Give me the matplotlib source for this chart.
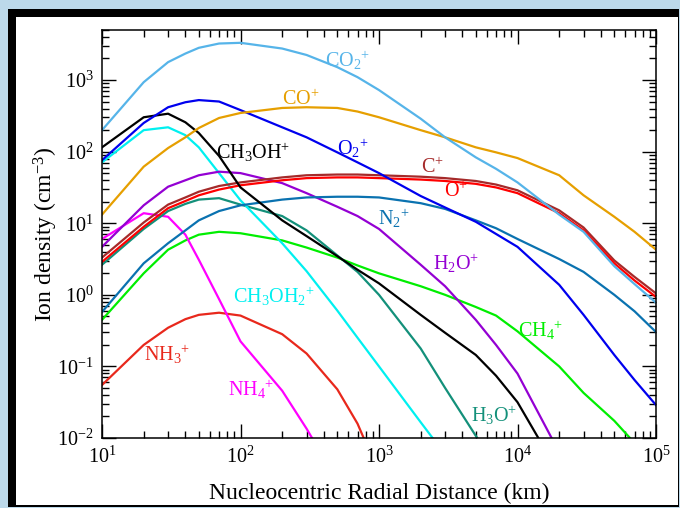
import numpy as np
import matplotlib
matplotlib.use("Agg")
import matplotlib.pyplot as plt
from matplotlib.patches import Rectangle
from matplotlib.ticker import LogLocator, FuncFormatter, NullFormatter

plt.rcParams['font.family'] = ['Liberation Serif', 'DejaVu Serif']
plt.rcParams['mathtext.fontset'] = 'custom'
plt.rcParams['mathtext.rm'] = 'Liberation Serif'
plt.rcParams['mathtext.it'] = 'Liberation Serif:italic'

nan = np.nan
# radial distance grid (km)
r = [10, 20, 30, 40, 50, 70, 100, 200, 300, 500, 700, 1e3,
     2e3, 3e3, 5e3, 7e3, 1e4, 2e4, 3e4, 5e4, 7e4, 1e5]

# log10 of ion density (cm^-3)
co2 = [2.30, 2.97, 3.25, 3.37, 3.45, 3.51, 3.52, 3.44, 3.35, 3.18, 3.04, 2.86,
       2.46, 2.20, 1.92, 1.76, 1.57, 1.12, 0.88, 0.40, 0.15, -0.11]
co = [1.12, 1.79, 2.05, 2.20, 2.33, 2.47, 2.54, 2.61, 2.62, 2.61, 2.56, 2.48,
      2.30, 2.20, 2.06, 1.99, 1.91, 1.67, 1.39, 1.09, 0.88, 0.63]
o2 = [1.88, 2.40, 2.62, 2.69, 2.72, 2.70, 2.58, 2.34, 2.20, 1.99, 1.85, 1.70,
      1.38, 1.22, 1.02, 0.85, 0.67, 0.14, -0.28, -0.84, -1.19, -1.54]
cp = [0.52, 1.01, 1.26, 1.36, 1.44, 1.52, 1.57, 1.64, 1.67, 1.68, 1.68, 1.67,
      1.65, 1.63, 1.59, 1.54, 1.46, 1.18, 0.94, 0.48, 0.25, 0.02]
op = [0.46, 0.95, 1.21, 1.31, 1.39, 1.47, 1.53, 1.60, 1.63, 1.64, 1.64, 1.63,
      1.61, 1.59, 1.55, 1.50, 1.42, 1.14, 0.90, 0.44, 0.20, -0.03]
n2 = [-0.24, 0.44, 0.72, 0.90, 1.04, 1.17, 1.25, 1.33, 1.36, 1.37, 1.37, 1.36,
      1.28, 1.20, 1.04, 0.93, 0.78, 0.50, 0.32, 0.00, -0.23, -0.52]
h2o = [0.67, 1.25, 1.51, 1.60, 1.67, 1.72, 1.70, 1.56, 1.42, 1.23, 1.10, 0.92,
       0.42, 0.12, -0.35, -0.70, -1.10, -2.2, nan, nan, nan, nan]
ch3oh = [2.06, 2.48, 2.53, 2.41, 2.26, 1.94, 1.50, 1.04, 0.82, 0.54, 0.35, 0.16,
         -0.28, -0.53, -0.84, -1.13, -1.50, -2.5, nan, nan, nan, nan]
ch3oh2 = [1.85, 2.30, 2.34, 2.23, 2.06, 1.70, 1.32, 0.72, 0.33, -0.22, -0.60, -1.00,
          -1.78, -2.23, nan, nan, nan, nan, nan, nan, nan, nan]
nh4 = [0.78, 1.14, 1.09, 0.84, 0.49, -0.06, -0.65, -1.34, -1.87, -2.6, nan, nan,
       nan, nan, nan, nan, nan, nan, nan, nan, nan, nan]
nh3 = [-1.26, -0.70, -0.46, -0.34, -0.28, -0.25, -0.29, -0.55, -0.82, -1.32, -1.80, -2.5,
       nan, nan, nan, nan, nan, nan, nan, nan, nan, nan]
h3o = [0.42, 0.92, 1.17, 1.27, 1.33, 1.35, 1.26, 1.10, 0.90, 0.55, 0.32, 0.00,
       -0.75, -1.30, -1.97, -2.4, nan, nan, nan, nan, nan, nan]
ch4 = [-0.35, 0.30, 0.63, 0.76, 0.84, 0.88, 0.86, 0.76, 0.66, 0.52, 0.41, 0.30,
       0.12, 0.00, -0.17, -0.29, -0.51, -1.0, -1.37, -1.76, -2.07, -2.5]

# (series, colour, label, label x, label y)
curves = [
    (ch4, '#00ee00', r'CH$_4$$^{+}$', 1.0e4, 0.32),
    (nh3, '#e8281c', r'NH$_3$$^{+}$', 20, 0.145),
    (nh4, '#ff00ff', r'NH$_4$$^{+}$', 81, 0.048),
    (h3o, '#13907a', r'H$_3$O$^{+}$', 4600, 0.0205),
    (ch3oh2, '#00f0f0', r'CH$_3$OH$_2$$^{+}$', 89, 0.96),
    (h2o, '#9400d3', r'H$_2$O$^{+}$', 2450, 2.7),
    (n2, '#0a72b0', r'N$_2$$^{+}$', 980, 11.7),
    (cp, '#a52a2a', r'C$^{+}$', 2000, 59),
    (op, '#ff0000', r'O$^{+}$', 2950, 27.5),
    (ch3oh, '#000000', r'CH$_3$OH$^{+}$', 66, 98),
    (o2, '#0000ee', r'O$_2$$^{+}$', 500, 112),
    (co, '#e69f00', r'CO$^{+}$', 200, 525),
    (co2, '#56b4e9', r'CO$_2$$^{+}$', 407, 1900),
]

fig = plt.figure(figsize=(6.8, 5.08), dpi=100)
fig.patch.set_facecolor('#bcd9ea')
fig.patches.append(Rectangle((8 / 680, 1 / 508), 671 / 680, 498 / 508,
                             transform=fig.transFigure, facecolor='black',
                             edgecolor='none', zorder=-2))
fig.patches.append(Rectangle((16 / 680, 3 / 508), 661.5 / 680, 488 / 508,
                             transform=fig.transFigure, facecolor='white',
                             edgecolor='none', zorder=-1))

ax = fig.add_axes([102 / 680, 70 / 508, 554 / 680, 408 / 508])
ax.set_facecolor('white')

for vals, col, lab, lx, ly in curves:
    ax.plot(r, 10 ** np.array(vals), color=col, lw=1.6)
    ax.text(lx, ly, lab, color=col, fontsize=14.5, ha='left', va='center')

ax.set_xscale('log')
ax.set_yscale('log')
ax.set_xlim(10, 1e5)
ax.set_ylim(1e-2, 5e3)

fmt = FuncFormatter(lambda v, p: '10$^{%d}$' % int(round(np.log10(v))))
for a in (ax.xaxis, ax.yaxis):
    a.set_major_locator(LogLocator(base=10, numticks=10))
    a.set_minor_locator(LogLocator(base=10, subs=np.arange(2, 10), numticks=20))
    a.set_major_formatter(fmt)
    a.set_minor_formatter(NullFormatter())

ax.tick_params(which='both', direction='in', top=True, right=True,
               labelsize=14.5, width=1)
ax.tick_params(which='major', length=10, pad=6)
ax.tick_params(which='minor', length=5)
for s in ax.spines.values():
    s.set_linewidth(1.1)

ax.set_xlabel('Nucleocentric Radial Distance (km)', fontsize=17, labelpad=11)
ax.set_ylabel('Ion density (cm$^{-3}$)', fontsize=17, labelpad=-2)

fig.savefig('out.png', dpi=100, facecolor=fig.get_facecolor())
